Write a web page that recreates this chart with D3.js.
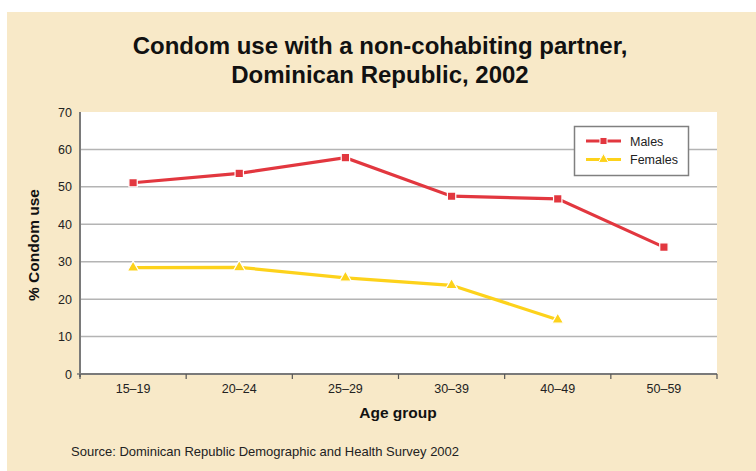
<!DOCTYPE html>
<html><head><meta charset="utf-8">
<script src="https://cdn.jsdelivr.net/npm/d3@7"></script>
<style>html,body{margin:0;padding:0;background:#fff;}svg{display:block;font-family:"Liberation Sans",Arial,sans-serif;}</style>
</head><body>
<svg id="c" width="756" height="471"></svg>
<script>
const categories = ["15–19","20–24","25–29","30–39","40–49","50–59"];
const males = [51.1, 53.6, 57.8, 47.5, 46.8, 33.9];
const females = [28.4, 28.5, 25.7, 23.7, 14.5, null];
const yTicks = [0,10,20,30,40,50,60,70];
const seriesNames = ["Males","Females"];
const seriesColors = ["#e2373f","#fdd21b"];
const titleLines = ["Condom use with a non-cohabiting partner,","Dominican Republic, 2002"];

const svg = d3.select("#c");
svg.append("rect").attr("x",7).attr("y",12).attr("width",749).attr("height",459).attr("fill","#f8e9c8");

const L=80,R=717,T=112,B=374;
const x = d3.scaleBand().domain(categories).range([L,R]);
const y = d3.scaleLinear().domain([0,70]).range([B,T]);

svg.append("rect").attr("x",L).attr("y",T).attr("width",R-L).attr("height",B-T).attr("fill","#fff");

// gridlines
svg.append("g").selectAll("line").data(yTicks.filter(d=>d>0&&d<70)).join("line")
  .attr("x1",L).attr("x2",R).attr("y1",d=>y(d)).attr("y2",d=>y(d))
  .attr("stroke","#b4b4b4").attr("stroke-width",1.5);

// y axis
const ya = svg.append("g").attr("transform",`translate(${L},0)`).call(d3.axisLeft(y).tickValues(yTicks).tickSize(0).tickPadding(8));
ya.select(".domain").remove();
ya.selectAll("text").attr("font-size",12.5).attr("fill","#222").attr("font-family","'Liberation Sans',Arial,sans-serif");
svg.append("line").attr("x1",L).attr("x2",L).attr("y1",T).attr("y2",B+3).attr("stroke","#7a7a7a").attr("stroke-width",2);
svg.append("line").attr("x1",L-3).attr("x2",L).attr("y1",B).attr("y2",B).attr("stroke","#7a7a7a").attr("stroke-width",1.5);

// x axis
svg.append("line").attr("x1",L).attr("x2",R).attr("y1",B).attr("y2",B).attr("stroke","#7a7a7a").attr("stroke-width",2);
const bounds = categories.map(c=>x(c)).concat([R]);
svg.append("g").selectAll("line").data(bounds).join("line")
  .attr("x1",d=>d).attr("x2",d=>d).attr("y1",B).attr("y2",B+5).attr("stroke","#555").attr("stroke-width",1.2);
svg.append("g").selectAll("text").data(categories).join("text")
  .attr("x",d=>x(d)+x.bandwidth()/2).attr("y",B+19).attr("text-anchor","middle")
  .attr("font-size",12.5).attr("fill","#222").text(d=>d);

// lines
const cx = d=>x(d)+x.bandwidth()/2;
function drawSeries(vals,color,shape){
  const pts = categories.map((c,i)=>({c,v:vals[i]})).filter(p=>p.v!=null);
  const line = d3.line().x(p=>cx(p.c)).y(p=>y(p.v));
  svg.append("path").datum(pts).attr("d",line).attr("fill","none").attr("stroke",color).attr("stroke-width",3.2);
  const sym = d3.symbol().type(shape).size(shape===d3.symbolSquare?70:60);
  svg.append("g").selectAll("path").data(pts).join("path")
    .attr("transform",p=>`translate(${cx(p.c)},${y(p.v)})`).attr("d",sym)
    .attr("fill",color).attr("stroke","#fff").attr("stroke-width",1.2);
}
drawSeries(males,seriesColors[0],d3.symbolSquare);
drawSeries(females,seriesColors[1],d3.symbolTriangle);

// legend
const lg = svg.append("g");
lg.append("rect").attr("x",574.5).attr("y",126.5).attr("width",114).attr("height",49).attr("fill","#fff").attr("stroke","#808080").attr("stroke-width",1.5);
seriesNames.forEach((n,i)=>{
  const yy = 141+i*18.5;
  lg.append("line").attr("x1",586).attr("x2",621).attr("y1",yy).attr("y2",yy).attr("stroke",seriesColors[i]).attr("stroke-width",3);
  lg.append("path").attr("transform",`translate(603.5,${yy})`).attr("d",d3.symbol().type(i===0?d3.symbolSquare:d3.symbolTriangle).size(i===0?50:45))
    .attr("fill",seriesColors[i]).attr("stroke","#fff").attr("stroke-width",1);
  lg.append("text").attr("x",630).attr("y",yy+4.5).attr("font-size",12.5).attr("fill","#222").text(n);
});

// titles
svg.append("g").selectAll("text").data(titleLines).join("text")
  .attr("x",380).attr("y",(d,i)=>54+i*29).attr("text-anchor","middle")
  .attr("font-size",24).attr("font-weight","bold").attr("fill","#111").text(d=>d);
svg.append("text").attr("x",398).attr("y",418).attr("text-anchor","middle")
  .attr("font-size",15.5).attr("font-weight","bold").attr("fill","#111").text("Age group");
svg.append("text").attr("transform","translate(39,245) rotate(-90)").attr("text-anchor","middle")
  .attr("font-size",15.5).attr("font-weight","bold").attr("fill","#111").text("% Condom use");
svg.append("text").attr("x",71).attr("y",456).attr("font-size",13).attr("fill","#222")
  .text("Source: Dominican Republic Demographic and Health Survey 2002");
</script>
</body></html>
